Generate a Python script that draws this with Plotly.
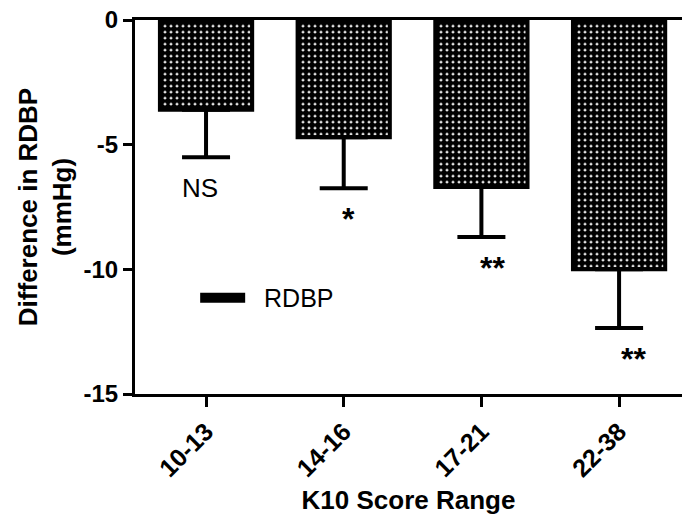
import plotly.graph_objects as go

categories = ["10-13", "14-16", "17-21", "22-38"]
rdbp_mean = [-3.6, -4.7, -6.7, -10.0]
rdbp_err_lower = [1.9, 2.05, 2.0, 2.35]
sig_labels = ["NS", "*", "**", "**"]
y_tick_vals = [0, -5, -10, -15]
y_tick_text = ["0", "-5", "-10", "-15"]

FONT = "Arial, 'Liberation Sans', sans-serif"

fig = go.Figure()
fig.add_trace(go.Bar(
    x=list(range(len(categories))),
    y=rdbp_mean,
    name="RDBP",
    width=0.67,
    showlegend=False,
    marker=dict(
        color="white",
        line=dict(color="black", width=4),
        pattern=dict(shape=".", fgcolor="black", bgcolor="white", fgopacity=1,
                     fillmode="replace", size=6, solidity=0.8),
    ),
    error_y=dict(
        type="data", symmetric=False,
        array=[0] * len(rdbp_mean), arrayminus=rdbp_err_lower,
        color="black", thickness=4, width=24,
    ),
))
# legend swatch entry for the series
fig.add_trace(go.Scatter(
    x=[None], y=[None], mode="lines", name="\u00a0\u00a0RDBP",
    line=dict(color="black", width=14),
))

xshifts = [-6, 5, 11, 14]
for i, (lab, m, e) in enumerate(zip(sig_labels, rdbp_mean, rdbp_err_lower)):
    bold = lab != "NS"
    fig.add_annotation(
        x=i, y=m - e - 1.25, text=lab, showarrow=False, xshift=xshifts[i],
        font=dict(family=FONT, size=32 if bold else 26, color="black",
                  weight="bold" if bold else "normal"),
    )

fig.update_layout(
    width=682, height=516,
    margin=dict(l=135, r=0, t=20, b=122),
    plot_bgcolor="white", paper_bgcolor="white",
    showlegend=True,
    legend=dict(x=0.11, y=0.257, xanchor="left", yanchor="middle",
                font=dict(family=FONT, size=25, color="black"),
                itemwidth=45,
                bgcolor="rgba(0,0,0,0)"),
    font=dict(family=FONT, color="black"),
)
fig.update_xaxes(
    range=[-0.516, 3.457],
    tickvals=list(range(len(categories))), ticktext=categories,
    tickangle=-45, ticks="outside", ticklen=10, tickwidth=3, tickcolor="black",
    showline=True, linecolor="black", linewidth=3, mirror=True,
    showgrid=False, zeroline=False,
    tickfont=dict(family=FONT, size=25, weight="bold", color="black"),
    title=dict(text="K10 Score Range", standoff=10,
               font=dict(family=FONT, size=26, weight="bold", color="black")),
)
fig.update_yaxes(
    range=[-15, 0],
    tickvals=y_tick_vals, ticktext=y_tick_text,
    ticks="outside", ticklen=9, tickwidth=3, tickcolor="black",
    showline=True, linecolor="black", linewidth=3,
    showgrid=False, zeroline=False,
    tickfont=dict(family=FONT, size=24, weight="bold", color="black"),
    title=dict(text="Difference in RDBP<br>(mmHg)", standoff=5,
               font=dict(family=FONT, size=26, weight="bold", color="black")),
)

fig.write_html("out.html", config={"displayModeBar": False},
               post_script="document.body.style.margin='0px';")
